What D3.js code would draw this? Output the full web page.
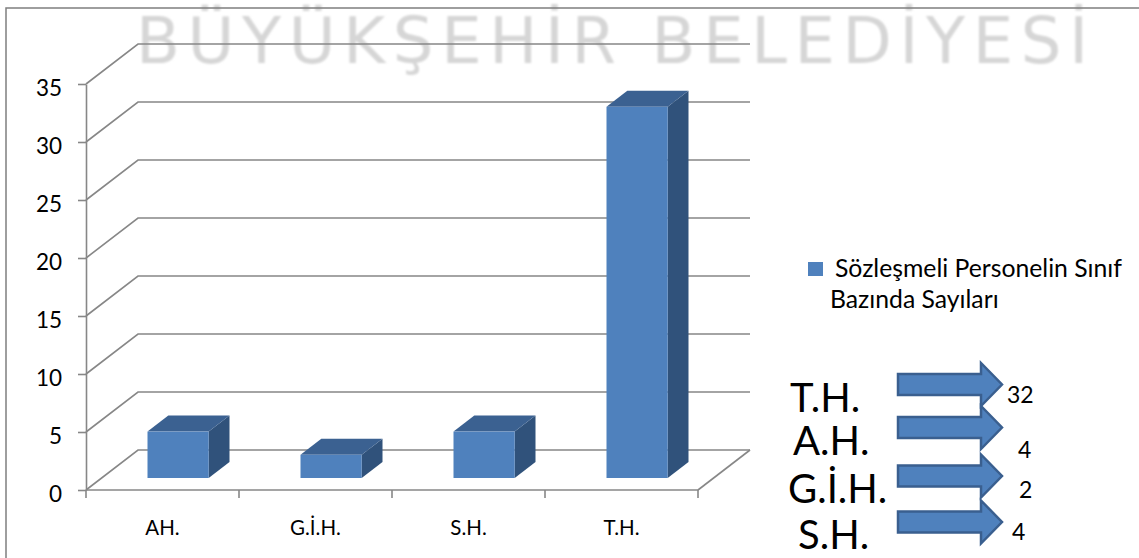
<!DOCTYPE html>
<html><head><meta charset="utf-8">
<script src="https://cdn.jsdelivr.net/npm/d3@7/dist/d3.min.js"></script>
<style>body{margin:0;background:#fff}svg{display:block}</style>
</head><body>
<svg id="c" width="1139" height="558"></svg>
<script>
// ---- data ----
const categories = ["AH.", "G.İ.H.", "S.H.", "T.H."];
const values = [4, 2, 4, 32];
const yTicks = [0, 5, 10, 15, 20, 25, 30, 35];
const seriesName = ["Sözleşmeli Personelin Sınıf", "Bazında Sayıları"];
const noteLabels = ["T.H.", "A.H.", "G.İ.H.", "S.H."];
const noteValues = [32, 4, 2, 4];
const watermark = "BÜYÜKŞEHİR BELEDİYESİ";

// ---- layout ----
const L = {
  x0: 86, x1: 698, y0: 490, y1: 84,
  depthX: 52, depthY: -40, barD0: 0.3, barD1: 0.7,
  notes: [
    {lx: 790, ly: 412, ay: 384.5, nx: 1007, ny: 403},
    {lx: 793, ly: 455, ay: 427.5, nx: 1018, ny: 458},
    {lx: 788, ly: 503, ay: 476,   nx: 1019, ny: 498},
    {lx: 798, ly: 549, ay: 522,   nx: 1012, ny: 540}
  ]
};
const FONT = "Lato, 'Open Sans', sans-serif";
const GRID = "#878787";

const svg = d3.select("#c");
const defs = svg.append("defs");
defs.append("filter").attr("id","blur").append("feGaussianBlur").attr("stdDeviation",1.1);

// watermark
svg.append("text").attr("x",136).attr("y",63)
  .attr("font-family","'DejaVu Sans', sans-serif").attr("font-size",64)
  .attr("fill","#d6d6d6").attr("filter","url(#blur)")
  .attr("textLength",952).attr("lengthAdjust","spacing")
  .text(watermark);

// border
svg.append("path").attr("d","M6,558 V8 H1139").attr("fill","none")
  .attr("stroke","#7f7f7f").attr("stroke-width",1.5);

const y = d3.scaleLinear().domain([0,35]).range([L.y0, L.y1]);
const x = d3.scaleBand().domain(categories).range([L.x0, L.x1])
  .paddingInner(0.6).paddingOuter(0.3);

// gridlines (back wall + side)
const g = svg.append("g");
g.selectAll("path.grid").data(yTicks).join("path").attr("class","grid")
  .attr("d", v => `M${L.x0},${y(v)} L${L.x0+L.depthX},${y(v)+L.depthY} H${L.x1+L.depthX}`)
  .attr("fill","none").attr("stroke",GRID).attr("stroke-width",1.6);
// floor right edge
g.append("path")
  .attr("d",`M${L.x1},${y(0)} L${L.x1+L.depthX},${y(0)+L.depthY}`)
  .attr("fill","none").attr("stroke",GRID).attr("stroke-width",1.6);

// bars
const bars = svg.append("g");
const data = categories.map((c,i)=>({c, v: values[i]}));
const bw = x.bandwidth();
const dx0 = L.depthX*L.barD0, dy0 = L.depthY*L.barD0;
const ddx = L.depthX*(L.barD1-L.barD0), ddy = L.depthY*(L.barD1-L.barD0);
data.forEach(d => {
  const xl = x(d.c) + dx0, xr = xl + bw;
  const yb = y(0) + dy0, yt = y(d.v) + dy0;
  const gb = bars.append("g");
  gb.append("path").attr("d",`M${xr},${yb} L${xr+ddx},${yb+ddy} V${yt+ddy} L${xr},${yt} Z`)
    .attr("fill","#30527b");
  gb.append("path").attr("d",`M${xl},${yt} L${xl+ddx},${yt+ddy} H${xr+ddx} L${xr},${yt} Z`)
    .attr("fill","#3b6191");
  gb.append("rect").attr("x",xl).attr("y",yt).attr("width",bw).attr("height",yb-yt)
    .attr("fill","#4f81bd");
});

// y axis
const ya = svg.append("g").attr("transform",`translate(${L.x0},0)`)
  .call(d3.axisLeft(y).tickValues(yTicks).tickSize(8).tickSizeOuter(0).tickPadding(16));
ya.select(".domain").attr("stroke",GRID).attr("stroke-width",1.6);
ya.selectAll(".tick line").attr("stroke",GRID).attr("stroke-width",1.6);
ya.selectAll(".tick text").attr("font-family",FONT).attr("font-size",22.5)
  .attr("fill","#000").attr("dy","11px");

// x axis
const xa = svg.append("g");
xa.append("line").attr("x1",L.x0).attr("x2",L.x1).attr("y1",y(0)).attr("y2",y(0))
  .attr("stroke",GRID).attr("stroke-width",1.6);
xa.selectAll("line.t").data(d3.range(categories.length+1)).join("line").attr("class","t")
  .attr("x1",i=>L.x0+i*x.step()).attr("x2",i=>L.x0+i*x.step())
  .attr("y1",y(0)).attr("y2",y(0)+8).attr("stroke",GRID).attr("stroke-width",1.6);
xa.selectAll("text").data(categories).join("text")
  .attr("x",c=>x(c)+bw/2).attr("y",535).attr("text-anchor","middle")
  .attr("font-family",FONT).attr("font-size",20.5).attr("fill","#000").text(c=>c);

// legend
svg.append("rect").attr("x",808).attr("y",262).attr("width",15).attr("height",14).attr("fill","#4f81bd");
function fit(sel, w){ const n=sel.node(); const l=n.getComputedTextLength(); const fs=+sel.attr("font-size"); sel.attr("font-size", fs*w/l); }
const lg1 = svg.append("text").attr("x",835).attr("y",277).attr("font-family",FONT).attr("font-size",21).attr("fill","#000").text(seriesName[0]);
fit(lg1, 287);
const lg2 = svg.append("text").attr("x",830).attr("y",308).attr("font-family",FONT).attr("font-size",+lg1.attr("font-size")).attr("fill","#000").text(seriesName[1]);

// annotations
const notes = svg.append("g");
noteLabels.forEach((lab,i)=>{
  const p = L.notes[i];
  notes.append("text").attr("x",p.lx).attr("y",p.ly).attr("font-family",FONT)
    .attr("font-size",40).attr("fill","#000").text(lab);
  const sx=898, hx=981, tx=1002, sh=10.5, hh=21.5, c=p.ay;
  notes.append("path")
    .attr("d",`M${sx},${c-sh} H${hx} V${c-hh} L${tx},${c} L${hx},${c+hh} V${c+sh} H${sx} Z`)
    .attr("fill","#4f81bd").attr("stroke","#3a5f8f").attr("stroke-width",2.5).attr("stroke-linejoin","miter");
  notes.append("text").attr("x",p.nx).attr("y",p.ny).attr("font-family",FONT)
    .attr("font-size",23).attr("fill","#000").text(noteValues[i]);
});
</script>
</body></html>
